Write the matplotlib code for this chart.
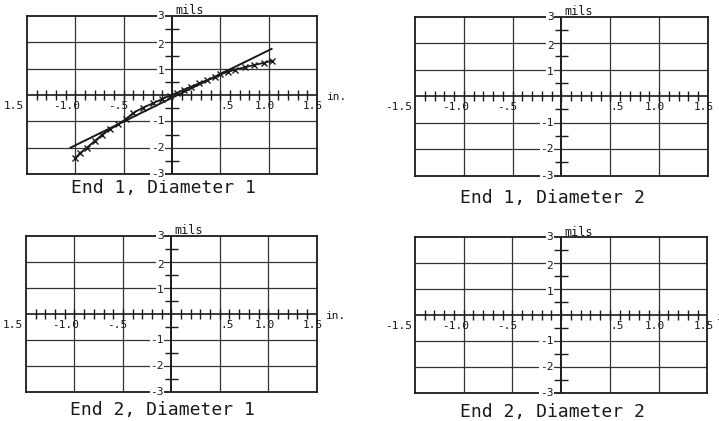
import numpy as np
import matplotlib
matplotlib.use("Agg")
import matplotlib.pyplot as plt

# ---------------- data ----------------
panel_titles = ["End 1, Diameter 1", "End 1, Diameter 2",
                "End 2, Diameter 1", "End 2, Diameter 2"]

# straight-line fit (End 1, Diameter 1)
fit_x = [-1.05, 1.03]
fit_y = [-2.0, 1.75]

# measured points (End 1, Diameter 1)
meas_x = [-1.0, -0.95, -0.88, -0.8, -0.72, -0.64, -0.56, -0.48, -0.4, -0.3,
          -0.2, -0.1, -0.02, 0.05, 0.12, 0.2, 0.28, 0.36, 0.44, 0.5,
          0.58, 0.65, 0.75, 0.85, 0.95, 1.03]
meas_y = [-2.4, -2.2, -2.0, -1.75, -1.5, -1.3, -1.12, -0.92, -0.68, -0.48,
          -0.32, -0.15, -0.02, 0.08, 0.2, 0.32, 0.44, 0.56, 0.68, 0.78,
          0.88, 0.96, 1.05, 1.14, 1.22, 1.3]

xtick_vals = [-1.5, -1.0, -0.5, 0.5, 1.0, 1.5]
xtick_labels_a = ["1.5", "-1.0", "-.5", ".5", "1.0", "1.5"]
xtick_labels_b = ["-1.5", "-1.0", "-.5", ".5", "1.0", "1.5"]
panel_xtick_labels = [xtick_labels_a, xtick_labels_b, xtick_labels_a, xtick_labels_b]

ytick_vals = [3, 2, 1, -1, -2, -3]
ytick_labels = ["3", "2", "1", "-1", "-2", "-3"]

x_unit = "in."
y_unit = "mils"

# ---------------- layout ----------------
W, H = 719, 421
fig = plt.figure(figsize=(W / 100, H / 100), dpi=100)
fig.patch.set_facecolor("white")

boxes_px = [(27, 16, 290, 158), (415, 16.7, 293, 159),
            (26, 236, 290.7, 155.7), (415, 237.3, 292.3, 155.4)]
title_off = [-0.120, -0.172, -0.150, -0.156]
show_xunit = [True, False, True, True]

font = "DejaVu Sans Mono"
ink = "#1a1a1a"

for i, (l, t, w, h) in enumerate(boxes_px):
    ax = fig.add_axes([l / W, 1 - (t + h) / H, w / W, h / H])
    ax.set_xlim(-1.5, 1.5)
    ax.set_ylim(-3, 3)
    ax.set_xticks([])
    ax.set_yticks([])
    for s in ax.spines.values():
        s.set_linewidth(1.3)
        s.set_color(ink)

    # grid
    for gx in [-1.0, -0.5, 0.5, 1.0]:
        ax.axvline(gx, color="#333333", lw=0.9, zorder=1)
    for gy in [-2, -1, 1, 2]:
        ax.axhline(gy, color="#333333", lw=0.9, zorder=1)

    # central axes
    ax.axhline(0, color=ink, lw=1.2, zorder=2)
    ax.axvline(0, color=ink, lw=1.4, zorder=2)

    # x ticks every 0.1
    tx = np.round(np.arange(-1.4, 1.41, 0.1), 2)
    ax.vlines(tx, -0.2, 0.2, color=ink, lw=1.0, zorder=2)
    # y ticks every 0.5 (between grid lines)
    ty = [-2.5, -1.5, -0.5, 0.5, 1.5, 2.5]
    ax.hlines(ty, -0.07, 0.07, color=ink, lw=1.0, zorder=2)

    # x labels
    labs = panel_xtick_labels[i]
    kw = dict(fontsize=8, family=font, color=ink, va="center", clip_on=False)
    for v, s in zip(xtick_vals, labs):
        if v == -1.5:
            ax.text(-1.53, -0.42, s, ha="right", **kw)
        elif v < 0:
            ax.text(v + 0.05, -0.42, s, ha="right", **kw)
        elif v == 0.5:
            ax.text(v + 0.005, -0.42, s, ha="left", **kw)
        else:
            ax.text(v - 0.04, -0.42, s, ha="center", **kw)
    if show_xunit[i]:
        ax.text(1.6, -0.08, x_unit, ha="left", **kw)

    # y labels
    for v, s in zip(ytick_vals, ytick_labels):
        yy = v - 0.1 if 0 < v < 3 else v
        ax.text(-0.08, yy, s, ha="right", zorder=4,
                bbox=dict(boxstyle="square,pad=0.05", fc="white", ec="none"),
                **kw)
    ax.text(0.03, 3.2, y_unit, ha="left", fontsize=8.5, family=font,
            color=ink, va="center", clip_on=False)

    # title
    ax.text(0.47, title_off[i], panel_titles[i], transform=ax.transAxes,
            ha="center", va="baseline", fontsize=13, family=font, color=ink)

    if i == 0:
        ax.plot(fit_x, fit_y, color=ink, lw=1.4, zorder=3)
        ax.plot(meas_x, meas_y, color=ink, lw=1.3, marker="x", ms=4,
                mew=1.0, zorder=3)

fig.savefig("out.png", dpi=100)
